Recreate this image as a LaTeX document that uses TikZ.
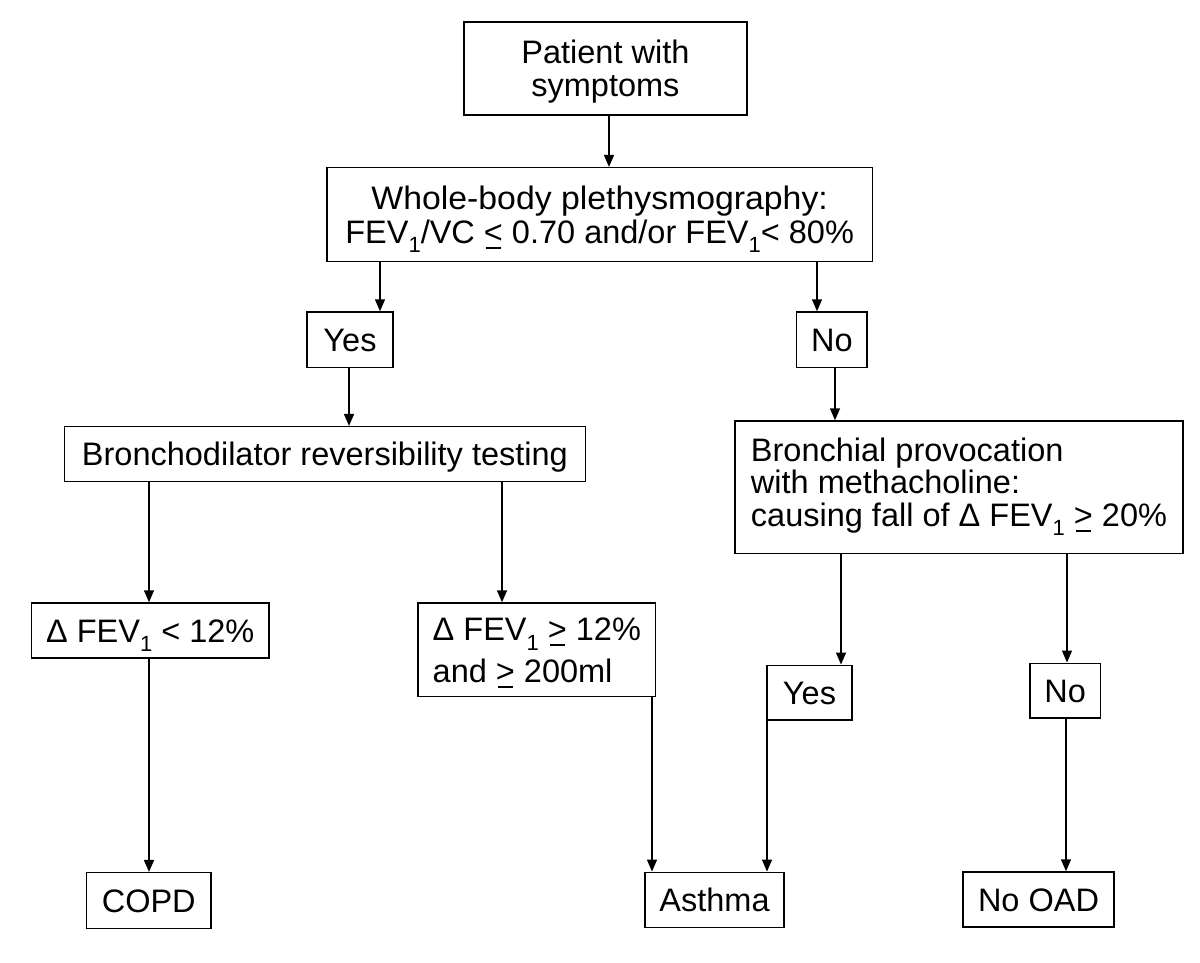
\documentclass[tikz,border=0pt]{standalone}
\usepackage{fontspec}
\usepackage{graphicx}
\setmainfont{Liberation Sans}
\usetikzlibrary{arrows.meta}
\newcommand{\fs}{\fontsize{32.5}{32.5}\selectfont}
\newcommand{\lowone}{\smash{\raisebox{-9.5pt}{\fontsize{22}{22}\selectfont 1}}}
\newcommand{\ulsym}[1]{\leavevmode\setbox0=\hbox{#1}\smash{\rlap{\hbox to \wd0{\hss\rule[-5.5pt]{0.8\wd0}{2pt}\hss}}\box0\relax}}
\begin{document}
\begin{tikzpicture}[x=1pt,y=-1pt,
  box/.style={draw, line width=1.5pt, inner sep=0pt, font=\fs},
  one/.style={text height=23.3pt, text depth=0pt},
  arr/.style={draw, line width=1.5pt, -{Triangle[length=12pt,width=10pt]}}]
\useasboundingbox (0,0) rectangle (1200,962);
\fill[white] (0,0) rectangle (1200,962);
% boxes
\node[box, align=center, text height=55.8pt, text depth=0pt, minimum width=283.2pt, minimum height=93pt] (patient) at (605.4,68.5) {Patient with\\symptoms};
\node[box, align=center, text height=56.7pt, text depth=0pt, minimum width=545.7pt, minimum height=94pt] (whole) at (599.65,214.7) {\scalebox{1.04}[1]{Whole-body plethysmography:}\\[0.8pt]FEV\lowone/VC \ulsym{<} 0.70 and/or FEV\lowone{}< 80\%};
\node[box, one, minimum width=86pt, minimum height=55.3pt] (yes1) at (350,339.65) {Yes};
\node[box, one, minimum width=70.3pt, minimum height=55.3pt] (no1) at (831.85,339.65) {No};
\node[box, one, minimum width=521.2pt, minimum height=54.6pt] (bronch) at (324.9,454) {Bronchodilator reversibility testing};
\node[box, align=left, text height=88.3pt, text depth=10pt, minimum width=448pt, minimum height=132.5pt] (prov) at (959,487.25) {Bronchial provocation\\with methacholine:\\causing fall of Δ FEV\lowone{} \ulsym{>} 20\%};
\node[box, one, minimum width=237.6pt, minimum height=55pt] (d12) at (150.2,630.5) {Δ FEV\lowone{} < 12\%};
\node[box, align=left, text height=65pt, text depth=0pt, minimum width=237.7pt, minimum height=93.5pt] (d12b) at (536.85,649.75) {Δ FEV\lowone{} \ulsym{>} 12\%\\[9.2pt]and \ulsym{>} 200ml};
\node[box, one, minimum width=85pt, minimum height=54.7pt] (yes2) at (809.5,692.65) {Yes};
\node[box, one, minimum width=70.3pt, minimum height=54.7pt] (no2) at (1065.15,690.65) {No};
\node[box, one, minimum width=124.5pt, minimum height=55.6pt] (copd) at (148.75,900.5) {COPD};
\node[box, one, minimum width=139pt, minimum height=55pt] (asthma) at (714.5,899.8) {Asthma};
\node[box, one, minimum width=151pt, minimum height=55pt] (noad) at (1038.5,899.5) {No OAD};
% connectors
\draw[arr] (609,0 |- patient.south) -- (609,0 |- whole.north);
\draw[arr] (380,0 |- whole.south) -- (380,0 |- yes1.north);
\draw[arr] (817,0 |- whole.south) -- (817,0 |- no1.north);
\draw[arr] (349,0 |- yes1.south) -- (349,0 |- bronch.north);
\draw[arr] (835,0 |- no1.south) -- (835,0 |- prov.north);
\draw[arr] (149,0 |- bronch.south) -- (149,0 |- d12.north);
\draw[arr] (502,0 |- bronch.south) -- (502,0 |- d12b.north);
\draw[arr] (841,0 |- prov.south) -- (841,0 |- yes2.north);
\draw[arr] (1067,0 |- prov.south) -- (1067,0 |- no2.north);
\draw[arr] (149,0 |- d12.south) -- (149,0 |- copd.north);
\draw[arr] (652,0 |- d12b.south) -- (652,0 |- asthma.north);
\draw[arr] (767,0 |- yes2.south) -- (767,0 |- asthma.north);
\draw[arr] (1066,0 |- no2.south) -- (1066,0 |- noad.north);
\end{tikzpicture}
\end{document}
